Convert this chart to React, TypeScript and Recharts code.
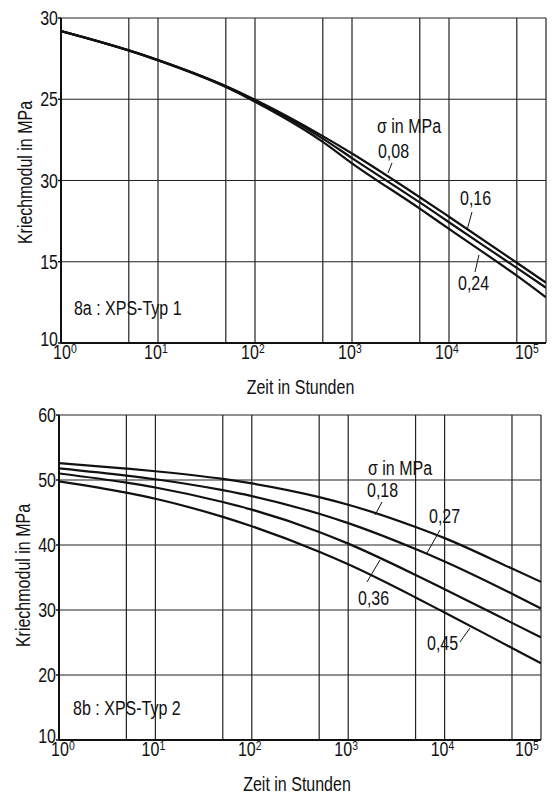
import React from "react";
import { LineChart, Line, XAxis, YAxis, ReferenceLine, ReferenceDot } from "recharts";

const FONT = "'Liberation Sans', Arial, sans-serif";
const SX = 0.8;

// ---- shared axis data ----
const times = [1, 5, 10, 50, 100, 500, 1000, 5000, 10000, 50000, 100000];
const xTicks = [1, 10, 100, 1000, 10000, 100000];
const xGrid = [1, 5, 10, 50, 100, 500, 1000, 5000, 10000, 50000, 100000];

// ---- chart 8a ----
const topS008 = [29.2, 28.01, 27.42, 25.81, 24.97, 22.73, 21.66, 18.97, 17.77, 14.94, 13.71];
const topS016 = [29.2, 28.01, 27.41, 25.79, 24.92, 22.58, 21.38, 18.65, 17.43, 14.62, 13.4];
const topS024 = [29.2, 28.0, 27.39, 25.75, 24.85, 22.38, 21.06, 18.27, 17.02, 14.14, 12.81];
const topYTicks = [10, 15, 20, 25, 30];
const topYLabels = ["10", "15", "30", "25", "30"];
const topTexts = [
  { text: "σ in MPa", t: 1810, v: 22.92 },
  { text: "0,08", t: 1850, v: 21.38 },
  { text: "0,16", t: 12980, v: 18.49 },
  { text: "0,24", t: 12390, v: 13.26 },
  { text: "8a : XPS-Typ 1", t: 1.36, v: 11.7 },
];
const topLeaders = [
  [2585, 21.08, 2350, 20.46],
  [17260, 18.06, 15340, 16.95],
  [20380, 15.42, 18540, 14.37],
];

// ---- chart 8b ----
const botS018 = [52.6, 51.76, 51.35, 50.16, 49.47, 47.37, 46.2, 42.77, 41.06, 36.38, 34.33];
const botS027 = [51.8, 50.68, 50.11, 48.43, 47.53, 44.8, 43.36, 39.37, 37.45, 32.49, 30.23];
const botS036 = [51.0, 49.6, 48.85, 46.61, 45.44, 42.01, 40.21, 35.39, 33.19, 28.02, 25.79];
const botS045 = [49.8, 48.05, 47.12, 44.32, 42.88, 38.96, 37.03, 31.93, 29.61, 24.16, 21.81];
const botYTicks = [10, 20, 30, 40, 50, 60];
const botYLabels = ["10", "20", "30", "40", "50", "60"];
const botTexts = [
  { text: "σ in MPa", t: 1604, v: 50.77 },
  { text: "0,18", t: 1567, v: 47.38 },
  { text: "0,27", t: 6890, v: 43.38 },
  { text: "0,36", t: 1264, v: 30.77 },
  { text: "0,45", t: 6570, v: 23.85 },
  { text: "8b : XPS-Typ 2", t: 1.4, v: 13.85 },
];
const botLeaders = [
  [2243, 46.62, 1897, 44.62],
  [8960, 42.31, 6570, 38.77],
  [2137, 37.69, 1567, 34.31],
  [18340, 27.23, 14450, 25.08],
];

const topData = times.map((t, i) => ({ t, a: topS008[i], b: topS016[i], c: topS024[i] }));
const botData = times.map((t, i) => ({ t, a: botS018[i], b: botS027[i], c: botS036[i], d: botS045[i] }));

const NText = (p: any) => {
  const { x, y, size = 20, anchor = "start", rot = 0, children } = p;
  const tr = `translate(${x} ${y})${rot ? ` rotate(${rot})` : ""} scale(${SX} 1)`;
  return (
    <text x={0} y={0} transform={tr} textAnchor={anchor} fontFamily={FONT} fontSize={size} fill="#111">
      {children}
    </text>
  );
};

const XTick = (props: any) => {
  const { x, y, payload, index } = props;
  const exp = Math.round(Math.log10(payload.value));
  const dx = index === 0 ? 1 : -5;
  return (
    <g>
      <NText x={x + dx} y={y + 16} anchor="middle" size={20}>10</NText>
      <NText x={x + dx + 9} y={y + 10} anchor="start" size={13}>{String(exp)}</NText>
    </g>
  );
};

const YTick = (props: any) => {
  const { x, y, index, labels } = props;
  const dy = index === 0 ? 3 : 7;
  return <NText x={x} y={y + dy} anchor="end" size={20}>{labels[index]}</NText>;
};

const annoLabel = (text: string) => (p: any) => {
  const vb = p.viewBox || {};
  return <NText x={vb.x} y={vb.y} size={20}>{text}</NText>;
};

const yLabel = (dy: number) => (p: any) => {
  const vb = p.viewBox;
  return (
    <NText x={vb.x + 16} y={vb.y + vb.height / 2 + dy} anchor="middle" rot={-90} size={20}>
      Kriechmodul in MPa
    </NText>
  );
};

const xLabel = (dy: number) => (p: any) => {
  const vb = p.viewBox;
  return (
    <NText x={vb.x + vb.width / 2 - 3} y={vb.y + dy} anchor="middle" size={20}>
      Zeit in Stunden
    </NText>
  );
};

const gridStroke = "#222";

function Panel(props: any) {
  const { data, keys, yTicks, yLabels, texts, leaders, height, margin, xH, xLabDy, yLabDy } = props;
  const yMin = yTicks[0];
  const yMax = yTicks[yTicks.length - 1];
  return (
    <LineChart width={553} height={height} data={data} margin={margin}>
      <XAxis
        dataKey="t"
        type="number"
        scale="log"
        domain={[1, 100000]}
        ticks={xTicks}
        allowDataOverflow
        height={xH}
        tickLine={false}
        tickSize={0}
        tickMargin={0}
        tick={<XTick />}
        axisLine={{ stroke: "#111", strokeWidth: 2 }}
        label={{ content: xLabel(xLabDy) }}
      />
      <YAxis
        type="number"
        domain={[yMin, yMax]}
        ticks={yTicks}
        width={45}
        allowDataOverflow
        tickSize={3}
        tickMargin={0}
        tickLine={{ stroke: "#111", strokeWidth: 1.5 }}
        axisLine={{ stroke: "#111", strokeWidth: 2 }}
        tick={<YTick labels={yLabels} />}
        label={{ content: yLabel(yLabDy) }}
      />
      {xGrid.map((g: number) => (
        <ReferenceLine key={"gx" + g} x={g} stroke={gridStroke} strokeWidth={1.2} />
      ))}
      {yTicks.map((g: number) => (
        <ReferenceLine key={"gy" + g} y={g} stroke={gridStroke} strokeWidth={1.2} />
      ))}
      {leaders.map((l: number[], i: number) => (
        <ReferenceLine
          key={"ld" + i}
          segment={[{ x: l[0], y: l[1] }, { x: l[2], y: l[3] }]}
          stroke="#111"
          strokeWidth={1}
        />
      ))}
      {keys.map((k: string) => (
        <Line key={k} dataKey={k} type="monotone" stroke="#111" strokeWidth={2.2} dot={false} isAnimationActive={false} />
      ))}
      {texts.map((a: any, i: number) => (
        <ReferenceDot key={"tx" + i} x={a.t} y={a.v} r={0} fill="none" stroke="none" label={annoLabel(a.text)} />
      ))}
    </LineChart>
  );
}

export default function App() {
  return (
    <div style={{ position: "absolute", left: 0, top: 0, width: 553, height: 796, background: "#fff" }}>
      <div style={{ position: "absolute", left: 0, top: 0 }}>
        <Panel
          data={topData}
          keys={["a", "b", "c"]}
          yTicks={topYTicks}
          yLabels={topYLabels}
          texts={topTexts}
          leaders={topLeaders}
          height={400}
          margin={{ top: 18, right: 7, left: 16, bottom: 0 }}
          xH={57}
          xLabDy={51}
          yLabDy={-8}
        />
      </div>
      <div style={{ position: "absolute", left: 0, top: 400 }}>
        <Panel
          data={botData}
          keys={["a", "b", "c", "d"]}
          yTicks={botYTicks}
          yLabels={botYLabels}
          texts={botTexts}
          leaders={botLeaders}
          height={396}
          margin={{ top: 15, right: 12, left: 14, bottom: 0 }}
          xH={56}
          xLabDy={51}
          yLabDy={-2}
        />
      </div>
    </div>
  );
}
